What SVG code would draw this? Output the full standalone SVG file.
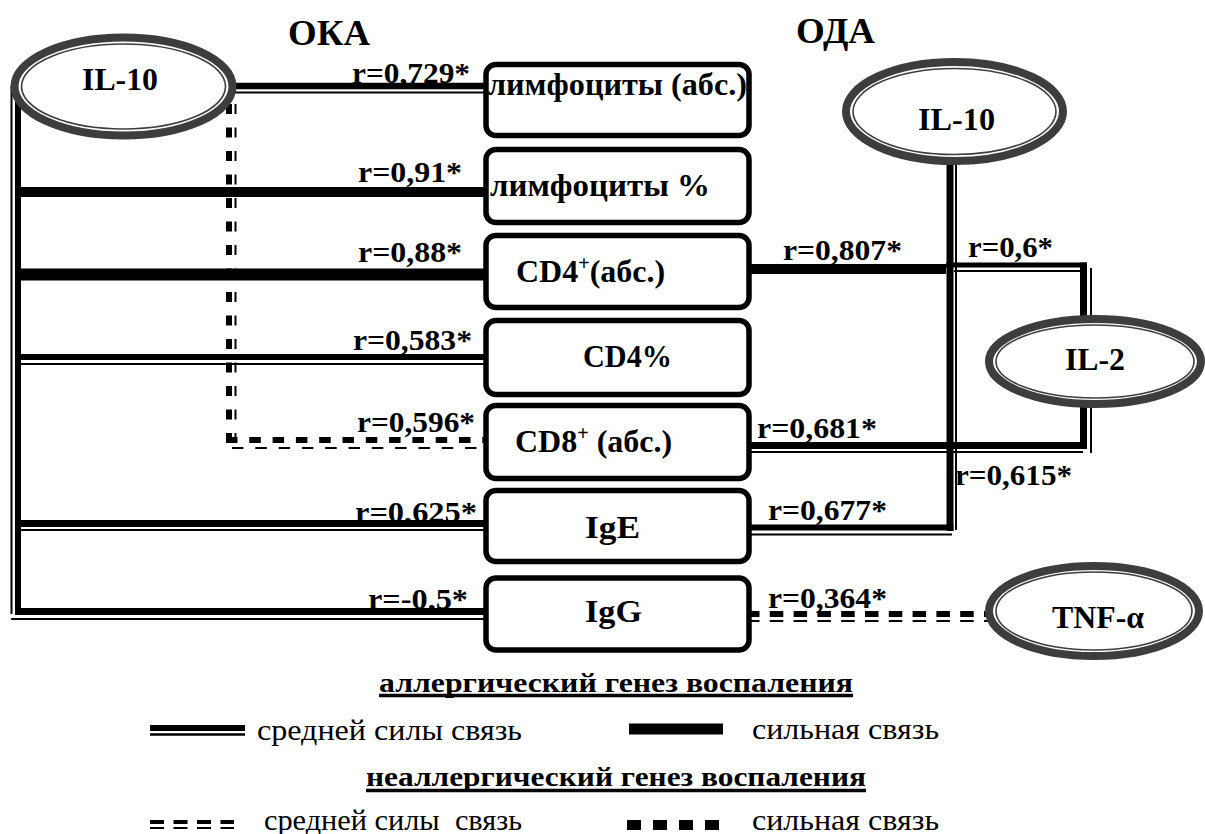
<svg xmlns="http://www.w3.org/2000/svg" width="1205" height="834" viewBox="0 0 1205 834">
<style>
text{font-family:"Liberation Serif","Times New Roman",serif;fill:#000}
.t{font-size:36px;font-weight:bold}
.n{font-size:32px;font-weight:bold}
.r{font-size:30px;font-weight:bold}
.lg{font-size:30px}
.hd{font-size:28px;font-weight:bold}
.ln{stroke:#000;fill:none;stroke-linecap:butt}
.m{stroke-width:2}
.dh{stroke-dasharray:11.5 11.8}
.dv{stroke-dasharray:10 13.5}
.dr{stroke-dasharray:13.5 10.3}
.box rect{fill:#fff;stroke:#000;stroke-width:5.5}
.ell .o{fill:#fff;stroke:#3d3d3d;stroke-width:8}
.ell .i{fill:none;stroke:#3d3d3d;stroke-width:1.6}
</style>
<rect width="1205" height="834" fill="#fff"/>

<g id="titles">
<text class="t" x="288" y="45" textLength="82" lengthAdjust="spacingAndGlyphs">ОКА</text>
<text class="t" x="796" y="43" textLength="79" lengthAdjust="spacingAndGlyphs">ОДА</text>
</g>

<g id="connectors">
<line class="ln m" x1="11.5" y1="86" x2="11.5" y2="614"/>
<line class="ln" stroke-width="6" x1="18" y1="86" x2="18" y2="615"/>
<line class="ln" stroke-width="6.5" x1="230" y1="86" x2="487" y2="86"/>
<line class="ln m" x1="230" y1="92.5" x2="487" y2="92.5"/>
<line class="ln" stroke-width="10" x1="15" y1="192" x2="487" y2="192"/>
<line class="ln" stroke-width="12" x1="15" y1="274.5" x2="487" y2="274.5"/>
<line class="ln" stroke-width="6" x1="15" y1="357" x2="487" y2="357"/>
<line class="ln m" x1="21" y1="364" x2="487" y2="364"/>
<line class="ln dv" stroke-width="6" x1="229" y1="443" x2="229" y2="98"/>
<line class="ln dv m" x1="235.5" y1="443" x2="235.5" y2="98"/>
<line class="ln dh" stroke-width="6" x1="226" y1="440" x2="487" y2="440"/>
<line class="ln dh m" x1="232" y1="448" x2="487" y2="448"/>
<line class="ln" stroke-width="7" x1="15" y1="523.5" x2="487" y2="523.5"/>
<line class="ln m" x1="21" y1="530" x2="487" y2="530"/>
<line class="ln" stroke-width="7" x1="15" y1="611.5" x2="487" y2="611.5"/>
<line class="ln m" x1="11" y1="619" x2="487" y2="619"/>

<line class="ln" stroke-width="7" x1="950" y1="150" x2="950" y2="531"/>
<line class="ln m" x1="956" y1="150" x2="956" y2="530"/>
<line class="ln" stroke-width="10" x1="748" y1="269" x2="946" y2="269"/>
<line class="ln" stroke-width="5" x1="946" y1="265" x2="1087" y2="265"/>
<line class="ln m" x1="954" y1="271" x2="1084" y2="271"/>
<line class="ln" stroke-width="7" x1="1083.5" y1="262.5" x2="1083.5" y2="330"/>
<line class="ln m" x1="1091" y1="268" x2="1091" y2="330"/>
<line class="ln" stroke-width="7" x1="1083.5" y1="395" x2="1083.5" y2="449"/>
<line class="ln m" x1="1091" y1="395" x2="1091" y2="453"/>
<line class="ln" stroke-width="7" x1="748" y1="445.5" x2="1087" y2="445.5"/>
<line class="ln" stroke-width="2.2" x1="748" y1="452" x2="1083" y2="452"/>
<line class="ln" stroke-width="6" x1="748" y1="527.5" x2="953.5" y2="527.5"/>
<line class="ln m" x1="748" y1="534.5" x2="952" y2="534.5"/>
<line class="ln dr" stroke-width="6" x1="746" y1="614" x2="997" y2="614"/>
<line class="ln dr m" x1="746" y1="621" x2="990" y2="621"/>
</g>

<g id="connector-labels">
<text class="r" x="352" y="83" textLength="118" lengthAdjust="spacingAndGlyphs">r=0,729*</text>
<text class="r" x="358" y="182" textLength="104" lengthAdjust="spacingAndGlyphs">r=0,91*</text>
<text class="r" x="358" y="262" textLength="104" lengthAdjust="spacingAndGlyphs">r=0,88*</text>
<text class="r" x="353" y="350" textLength="119" lengthAdjust="spacingAndGlyphs">r=0,583*</text>
<text class="r" x="357" y="432" textLength="118" lengthAdjust="spacingAndGlyphs">r=0,596*</text>
<text class="r" x="355" y="522" textLength="122" lengthAdjust="spacingAndGlyphs">r=0,625*</text>
<text class="r" x="368" y="609" textLength="100" lengthAdjust="spacingAndGlyphs">r=-0,5*</text>
<text class="r" x="783" y="260" textLength="119" lengthAdjust="spacingAndGlyphs">r=0,807*</text>
<text class="r" x="968" y="257" textLength="85" lengthAdjust="spacingAndGlyphs">r=0,6*</text>
<text class="r" x="757" y="438" textLength="120" lengthAdjust="spacingAndGlyphs">r=0,681*</text>
<text class="r" x="955" y="485" textLength="117" lengthAdjust="spacingAndGlyphs">r=0,615*</text>
<text class="r" x="768" y="520" textLength="119" lengthAdjust="spacingAndGlyphs">r=0,677*</text>
<text class="r" x="768" y="608" textLength="119" lengthAdjust="spacingAndGlyphs">r=0,364*</text>
</g>

<g id="oka-il10" class="ell">
<ellipse class="o" cx="123.5" cy="86.5" rx="109" ry="49"/>
<ellipse class="i" cx="123.5" cy="86.5" rx="102" ry="42.5"/>
<text class="n" x="82" y="90" textLength="76" lengthAdjust="spacingAndGlyphs">IL-10</text>
</g>

<g id="box-lymph-abs" class="box">
<rect x="486" y="64.5" width="263" height="71" rx="10"/>
<text class="n" x="488" y="95" textLength="259" lengthAdjust="spacingAndGlyphs">лимфоциты (абс.)</text>
</g>
<g id="box-lymph-pct" class="box">
<rect x="486" y="149.5" width="263" height="73" rx="10"/>
<text class="n" x="490" y="196" textLength="220" lengthAdjust="spacingAndGlyphs">лимфоциты %</text>
</g>
<g id="box-cd4-abs" class="box">
<rect x="486" y="235.5" width="263" height="72" rx="10"/>
<text class="n" x="516" y="282">CD4<tspan font-size="20" dy="-12">+</tspan><tspan dy="12">(абс.)</tspan></text>
</g>
<g id="box-cd4-pct" class="box">
<rect x="486" y="320.5" width="263" height="74" rx="10"/>
<text class="n" x="583" y="367" textLength="89" lengthAdjust="spacingAndGlyphs">CD4%</text>
</g>
<g id="box-cd8-abs" class="box">
<rect x="486" y="405.5" width="263" height="73" rx="10"/>
<text class="n" x="515" y="452">CD8<tspan font-size="20" dy="-12">+</tspan><tspan dy="12"> (абс.)</tspan></text>
</g>
<g id="box-ige" class="box">
<rect x="486" y="490.5" width="263" height="71" rx="10"/>
<text class="n" x="585" y="538" textLength="55" lengthAdjust="spacingAndGlyphs">IgE</text>
</g>
<g id="box-igg" class="box">
<rect x="486" y="578" width="263" height="72" rx="10"/>
<text class="n" x="585" y="622" textLength="57" lengthAdjust="spacingAndGlyphs">IgG</text>
</g>

<g id="oda-il10" class="ell">
<ellipse class="o" cx="954.5" cy="111.5" rx="108.5" ry="49.5"/>
<ellipse class="i" cx="954.5" cy="111.5" rx="101.5" ry="43"/>
<text class="n" x="918" y="130" textLength="77" lengthAdjust="spacingAndGlyphs">IL-10</text>
</g>
<g id="oda-il2" class="ell">
<ellipse class="o" cx="1095" cy="361.5" rx="106" ry="42.5"/>
<ellipse class="i" cx="1095" cy="361.5" rx="99" ry="36.5"/>
<text class="n" x="1065" y="370" textLength="60" lengthAdjust="spacingAndGlyphs">IL-2</text>
</g>
<g id="oda-tnf" class="ell">
<ellipse class="o" cx="1094" cy="611" rx="105" ry="45"/>
<ellipse class="i" cx="1094" cy="611" rx="98" ry="39"/>
<text class="n" x="1052" y="628" textLength="92" lengthAdjust="spacingAndGlyphs">TNF-α</text>
</g>

<g id="legend">
<text class="hd" x="379" y="692" textLength="474" lengthAdjust="spacingAndGlyphs">аллергический генез воспаления</text>
<line class="ln" stroke-width="3.5" x1="379" y1="695.5" x2="853" y2="695.5"/>
<line class="ln" stroke-width="6" x1="150" y1="728" x2="245" y2="728"/>
<line class="ln" stroke-width="2.5" x1="150" y1="734.5" x2="245" y2="734.5"/>
<text class="lg" x="257" y="740" textLength="265" lengthAdjust="spacingAndGlyphs">средней силы связь</text>
<line class="ln" stroke-width="11" x1="629" y1="729" x2="723" y2="729"/>
<text class="lg" x="752" y="739" textLength="187" lengthAdjust="spacingAndGlyphs">сильная связь</text>
<text class="hd" x="366" y="786" textLength="500" lengthAdjust="spacingAndGlyphs">неаллергический генез воспаления</text>
<line class="ln" stroke-width="3.5" x1="366" y1="790.5" x2="866" y2="790.5"/>
<line class="ln" stroke-width="4" stroke-dasharray="14 9.5" x1="150" y1="822" x2="234" y2="822"/>
<line class="ln" stroke-width="2" stroke-dasharray="14 9.5" x1="150" y1="828" x2="234" y2="828"/>
<text class="lg" x="264" y="830" textLength="258" lengthAdjust="spacingAndGlyphs" xml:space="preserve">средней силы  связь</text>
<line class="ln" stroke-width="10" stroke-dasharray="14 12" x1="627" y1="825" x2="723" y2="825"/>
<text class="lg" x="752" y="830" textLength="187" lengthAdjust="spacingAndGlyphs">сильная связь</text>
</g>
</svg>
